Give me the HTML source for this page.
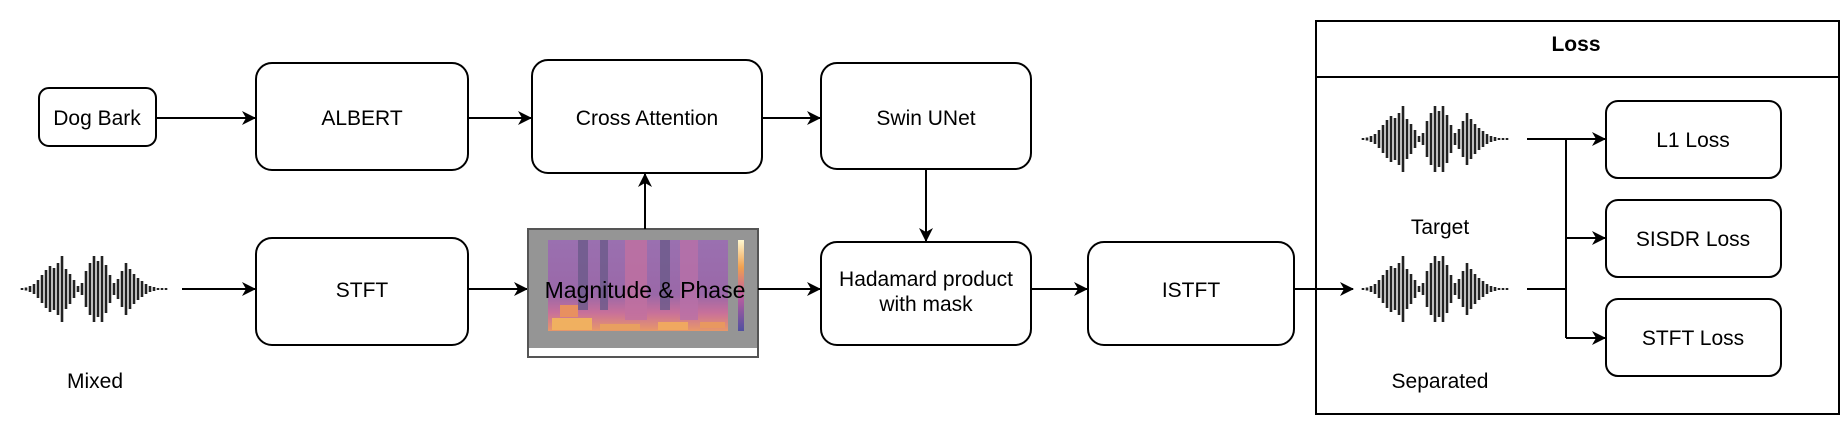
<!DOCTYPE html>
<html><head><meta charset="utf-8">
<style>
html,body{margin:0;padding:0;background:#fff;}
svg{display:block;}
text{font-family:"Liberation Sans",Arial,sans-serif;font-size:21px;fill:#000;}
.b{fill:#fff;stroke:#000;stroke-width:2;}
.l{stroke:#000;stroke-width:2;fill:none;}
</style></head><body>
<svg width="1841" height="428" viewBox="0 0 1841 428" xmlns="http://www.w3.org/2000/svg">
<defs>
<marker id="a" markerWidth="14" markerHeight="14" refX="13" refY="7" orient="auto" markerUnits="userSpaceOnUse">
<path d="M0,0 L14,7 L0,14 L4,7 z" fill="#000"/></marker>
<g id="w" stroke="#222" stroke-width="2.6">
<line x1="0" y1="-1" x2="0" y2="1"/><line x1="4" y1="-1.5" x2="4" y2="1.5"/><line x1="8" y1="-3" x2="8" y2="3"/><line x1="12" y1="-5" x2="12" y2="5"/><line x1="16" y1="-9" x2="16" y2="9"/><line x1="20" y1="-14" x2="20" y2="14"/><line x1="24" y1="-19" x2="24" y2="19"/><line x1="28" y1="-23" x2="28" y2="23"/><line x1="32" y1="-21" x2="32" y2="21"/><line x1="36" y1="-26" x2="36" y2="26"/><line x1="40" y1="-33" x2="40" y2="33"/><line x1="44" y1="-20" x2="44" y2="20"/><line x1="48" y1="-15" x2="48" y2="15"/><line x1="52" y1="-9" x2="52" y2="9"/><line x1="56" y1="-3" x2="56" y2="3"/><line x1="60" y1="-6" x2="60" y2="6"/><line x1="64" y1="-18" x2="64" y2="18"/><line x1="68" y1="-26" x2="68" y2="26"/><line x1="72" y1="-33" x2="72" y2="33"/><line x1="76" y1="-28" x2="76" y2="28"/><line x1="80" y1="-33" x2="80" y2="33"/><line x1="84" y1="-24" x2="84" y2="24"/><line x1="88" y1="-14" x2="88" y2="14"/><line x1="92" y1="-6" x2="92" y2="6"/><line x1="96" y1="-10" x2="96" y2="10"/><line x1="100" y1="-18" x2="100" y2="18"/><line x1="104" y1="-26" x2="104" y2="26"/><line x1="108" y1="-20" x2="108" y2="20"/><line x1="112" y1="-15" x2="112" y2="15"/><line x1="116" y1="-11" x2="116" y2="11"/><line x1="120" y1="-8" x2="120" y2="8"/><line x1="124" y1="-5" x2="124" y2="5"/><line x1="128" y1="-3" x2="128" y2="3"/><line x1="132" y1="-2" x2="132" y2="2"/><line x1="136" y1="-1" x2="136" y2="1"/><line x1="140" y1="-1" x2="140" y2="1"/><line x1="144" y1="-1" x2="144" y2="1"/>
</g>
<linearGradient id="cb" x1="0" y1="0" x2="0" y2="1"><stop offset="0" stop-color="#fff8d0"/><stop offset="0.3" stop-color="#f0a050"/><stop offset="0.6" stop-color="#c060a0"/><stop offset="1" stop-color="#5050a0"/></linearGradient>
<linearGradient id="sp" x1="0" y1="0" x2="0" y2="1"><stop offset="0" stop-color="#9a70b0"/><stop offset="0.6" stop-color="#9a68a8"/><stop offset="0.8" stop-color="#c8709a"/><stop offset="1" stop-color="#e89868"/></linearGradient>
</defs>

<rect class="b" x="39" y="88" width="117" height="58" rx="10"/>
<text x="97" y="125" text-anchor="middle">Dog Bark</text>
<rect class="b" x="256" y="63" width="212" height="107" rx="16"/>
<text x="362" y="125" text-anchor="middle">ALBERT</text>
<rect class="b" x="532" y="60" width="230" height="113" rx="16"/>
<text x="647" y="125" text-anchor="middle">Cross Attention</text>
<rect class="b" x="821" y="63" width="210" height="106" rx="16"/>
<text x="926" y="125" text-anchor="middle">Swin UNet</text>
<line class="l" x1="156" y1="118" x2="255" y2="118" marker-end="url(#a)"/>
<line class="l" x1="468" y1="118" x2="531" y2="118" marker-end="url(#a)"/>
<line class="l" x1="762" y1="118" x2="820" y2="118" marker-end="url(#a)"/>

<use href="#w" x="22" y="289"/>
<text x="95" y="388" text-anchor="middle">Mixed</text>
<line class="l" x1="182" y1="289" x2="255" y2="289" marker-end="url(#a)"/>
<rect class="b" x="256" y="238" width="212" height="107" rx="16"/>
<text x="362" y="297" text-anchor="middle">STFT</text>
<line class="l" x1="468" y1="289" x2="527" y2="289" marker-end="url(#a)"/>

<rect x="528" y="229" width="230" height="128" fill="#fff" stroke="#555" stroke-width="2"/>
<rect x="529" y="230" width="228" height="118" fill="#959595"/>
<rect x="548" y="240" width="180" height="91" fill="url(#sp)"/>
<rect x="578" y="240" width="10" height="70" fill="#6a5a8a" opacity="0.8"/>
<rect x="600" y="240" width="8" height="70" fill="#6a5a8a" opacity="0.8"/>
<rect x="625" y="240" width="22" height="80" fill="#c070a0" opacity="0.8"/>
<rect x="660" y="240" width="10" height="70" fill="#6a5a8a" opacity="0.8"/>
<rect x="680" y="240" width="18" height="80" fill="#b870a8" opacity="0.8"/>
<rect x="552" y="318" width="40" height="12" fill="#f0b060"/>
<rect x="560" y="305" width="18" height="12" fill="#e89060"/>
<rect x="600" y="324" width="40" height="6" fill="#e8a060"/>
<rect x="658" y="322" width="30" height="8" fill="#f0a860"/>
<rect x="700" y="322" width="25" height="6" fill="#e89860"/>
<rect x="738" y="240" width="6" height="91" fill="url(#cb)"/>
<line class="l" x1="645" y1="229" x2="645" y2="174" marker-end="url(#a)"/>
<text x="645" y="298" text-anchor="middle" style="font-size:23px">Magnitude &amp; Phase</text>
<line class="l" x1="758" y1="289" x2="820" y2="289" marker-end="url(#a)"/>

<rect class="b" x="821" y="242" width="210" height="103" rx="16"/>
<text x="926" y="286" text-anchor="middle">Hadamard product</text>
<text x="926" y="311" text-anchor="middle">with mask</text>
<line class="l" x1="926" y1="169" x2="926" y2="241" marker-end="url(#a)"/>
<line class="l" x1="1031" y1="289" x2="1087" y2="289" marker-end="url(#a)"/>
<rect class="b" x="1088" y="242" width="206" height="103" rx="16"/>
<text x="1191" y="297" text-anchor="middle">ISTFT</text>

<rect x="1316" y="21" width="523" height="393" fill="#fff" stroke="#000" stroke-width="2"/>
<line class="l" x1="1316" y1="77" x2="1839" y2="77"/>
<text x="1576" y="51" text-anchor="middle" font-weight="bold">Loss</text>
<line class="l" x1="1294" y1="289" x2="1353" y2="289" marker-end="url(#a)"/>
<use href="#w" x="1363" y="139"/>
<use href="#w" x="1363" y="289"/>
<text x="1440" y="234" text-anchor="middle">Target</text>
<text x="1440" y="388" text-anchor="middle">Separated</text>
<line class="l" x1="1527" y1="139" x2="1605" y2="139" marker-end="url(#a)"/>
<line class="l" x1="1527" y1="289" x2="1566" y2="289"/>
<line class="l" x1="1566" y1="139" x2="1566" y2="338"/>
<line class="l" x1="1566" y1="238" x2="1605" y2="238" marker-end="url(#a)"/>
<line class="l" x1="1566" y1="338" x2="1605" y2="338" marker-end="url(#a)"/>
<rect class="b" x="1606" y="101" width="175" height="77" rx="12"/>
<text x="1693" y="147" text-anchor="middle">L1 Loss</text>
<rect class="b" x="1606" y="200" width="175" height="77" rx="12"/>
<text x="1693" y="246" text-anchor="middle">SISDR Loss</text>
<rect class="b" x="1606" y="299" width="175" height="77" rx="12"/>
<text x="1693" y="345" text-anchor="middle">STFT Loss</text>
</svg>
</body></html>
